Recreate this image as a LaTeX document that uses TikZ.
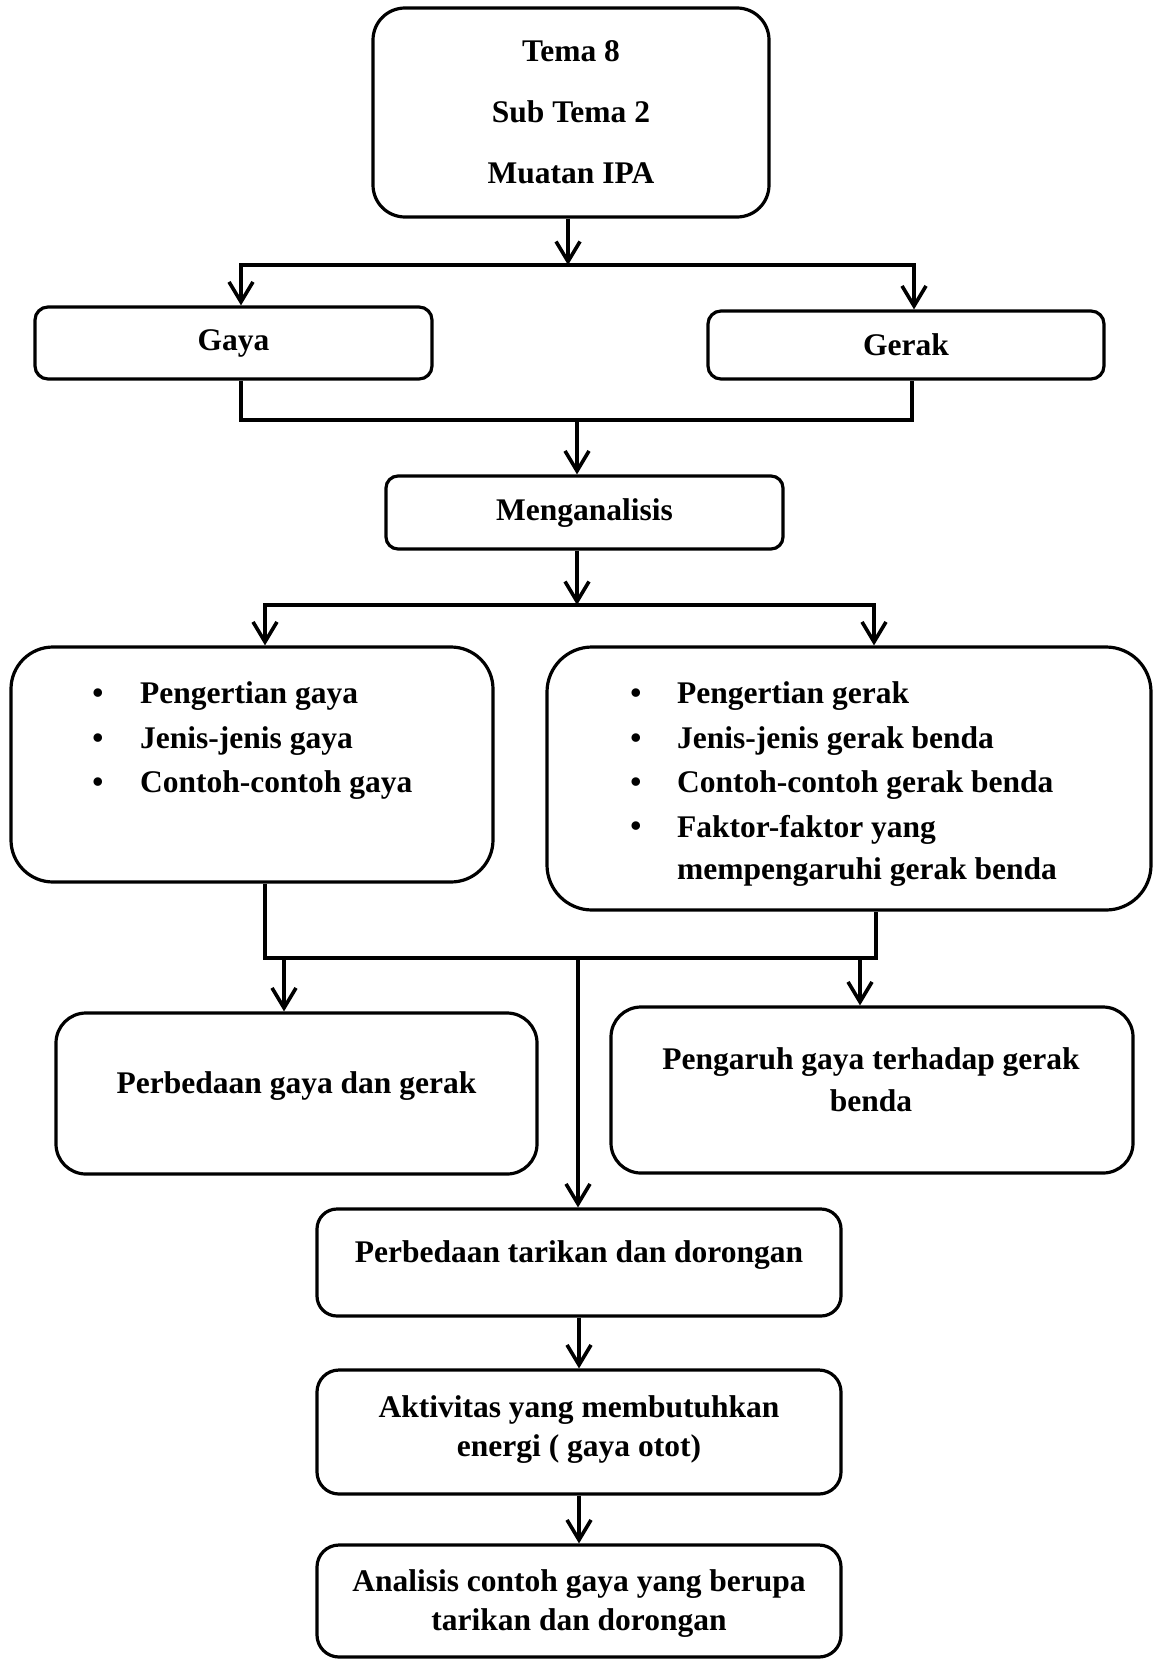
\documentclass[tikz,border=0pt]{standalone}
\usepackage{fontspec}
\setmainfont{Liberation Serif}
\usetikzlibrary{arrows.meta}
\begin{document}
\begin{tikzpicture}[x=1pt,y=-1pt,
  box/.style={draw, line width=3.2pt, rounded corners=#1, inner sep=0pt, align=center,
    font=\bfseries\fontsize{31.5}{39}\selectfont},
  box/.default=14pt,
  txt/.style={inner sep=0pt, align=center, font=\bfseries\fontsize{31.5}{39}\selectfont},
  ln/.style={line width=3.6pt},
  tip/.tip={Straight Barb[length=20pt,width=24pt]},
  arr/.style={ln, -tip},
  biarr/.style={ln, tip-tip}]
\useasboundingbox (0,0) rectangle (1161,1659);

% boxes
\node[box=32pt, minimum width=396pt, minimum height=209pt] (top) at (571,112.5) {};
\node[txt] (toptxt) at (571,112) {Tema 8\\[22pt]Sub Tema 2\\[22pt]Muatan IPA};

\node[box=13pt, minimum width=397pt, minimum height=72pt] (gaya) at (233.5,343) {Gaya};
\node[box=13pt, minimum width=396pt, minimum height=68pt] (gerak) at (906,345) {Gerak};
\node[box=12pt, minimum width=397pt, minimum height=73pt] (meng) at (584.5,512.5) {};
\node[txt] (mengtxt) at (584.5,513) {Menganalisis};

\node[box=42pt, minimum width=482pt, minimum height=235pt] (left) at (252,764.5) {};
\node[txt] (lb1) at (98,696) {•};
\node[txt] (lb2) at (98,741) {•};
\node[txt] (lb3) at (98,785) {•};
\node[txt, anchor=west] (li1) at (140,696) {Pengertian gaya};
\node[txt, anchor=west] (li2) at (140,741) {Jenis-jenis gaya};
\node[txt, anchor=west] (li3) at (140,785) {Contoh-contoh gaya};

\node[box=45pt, minimum width=604pt, minimum height=263pt] (right) at (849,778.5) {};
\node[txt] (rb1) at (636,696) {•};
\node[txt] (rb2) at (636,741) {•};
\node[txt] (rb3) at (636,785) {•};
\node[txt] (rb4) at (636,829.5) {•};
\node[txt, anchor=west] (ri1) at (677,696) {Pengertian gerak};
\node[txt, anchor=west] (ri2) at (677,741) {Jenis-jenis gerak benda};
\node[txt, anchor=west] (ri3) at (677,785) {Contoh-contoh gerak benda};
\node[txt, anchor=west, align=left] (ri4) at (677,851) {Faktor-faktor yang\\[3.5pt]mempengaruhi gerak benda};

\node[box=30pt, minimum width=481pt, minimum height=161pt] (perb) at (296.5,1093.5) {};
\node[txt] (perbtxt) at (296.5,1086) {Perbedaan gaya dan gerak};

\node[box=30pt, minimum width=522pt, minimum height=166pt] (peng) at (872,1090) {};
\node[txt] (pengtxt) at (871,1080) {Pengaruh gaya terhadap gerak\\[3pt]benda};

\node[box=20pt, minimum width=524pt, minimum height=107pt] (tarik) at (579,1262.5) {};
\node[txt] (tariktxt) at (579,1255) {Perbedaan tarikan dan dorongan};

\node[box=22pt, minimum width=524pt, minimum height=124pt] (aktiv) at (579,1432) {};
\node[txt] (aktivtxt) at (579,1430) {Aktivitas yang membutuhkan\\energi ( gaya otot)};

\node[box=22pt, minimum width=524pt, minimum height=112pt] (anal) at (579,1601) {};
\node[txt] (analtxt) at (579,1604) {Analisis contoh gaya yang berupa\\tarikan dan dorongan};

% junction points
\coordinate (j1L) at (241,265);
\coordinate (j1M) at (568,265);
\coordinate (j1R) at (914,265);
\coordinate (j2L) at (241,420);
\coordinate (j2M) at (577,420);
\coordinate (j2R) at (912,420);
\coordinate (j3L) at (265,605);
\coordinate (j3M) at (577,605);
\coordinate (j3R) at (874,605);
\coordinate (j4L) at (265,958);
\coordinate (j4R) at (876,958);
\coordinate (a4L) at (284,958);
\coordinate (a4M) at (578,958);
\coordinate (a4R) at (860,958);

% connectors
\draw[arr] (top.south -| j1M) -- (j1M);
\draw[biarr] (gaya.north -| j1L) -- (j1L) -- (j1R) -- (gerak.north -| j1R);

\draw[ln] (gaya.south -| j2L) -- (j2L) -- (j2R) -- (gerak.south -| j2R);
\draw[arr] (j2M) -- (meng.north -| j2M);

\draw[arr] (meng.south -| j3M) -- (j3M);
\draw[biarr] (left.north -| j3L) -- (j3L) -- (j3R) -- (right.north -| j3R);

\draw[ln] (left.south -| j4L) -- (j4L) -- (j4R) -- (right.south -| j4R);
\draw[arr] (a4L) -- (perb.north -| a4L);
\draw[arr] (a4M) -- (tarik.north -| a4M);
\draw[arr] (a4R) -- (peng.north -| a4R);

\draw[arr] (tarik.south) -- (aktiv.north);
\draw[arr] (aktiv.south) -- (anal.north);
\end{tikzpicture}
\end{document}
